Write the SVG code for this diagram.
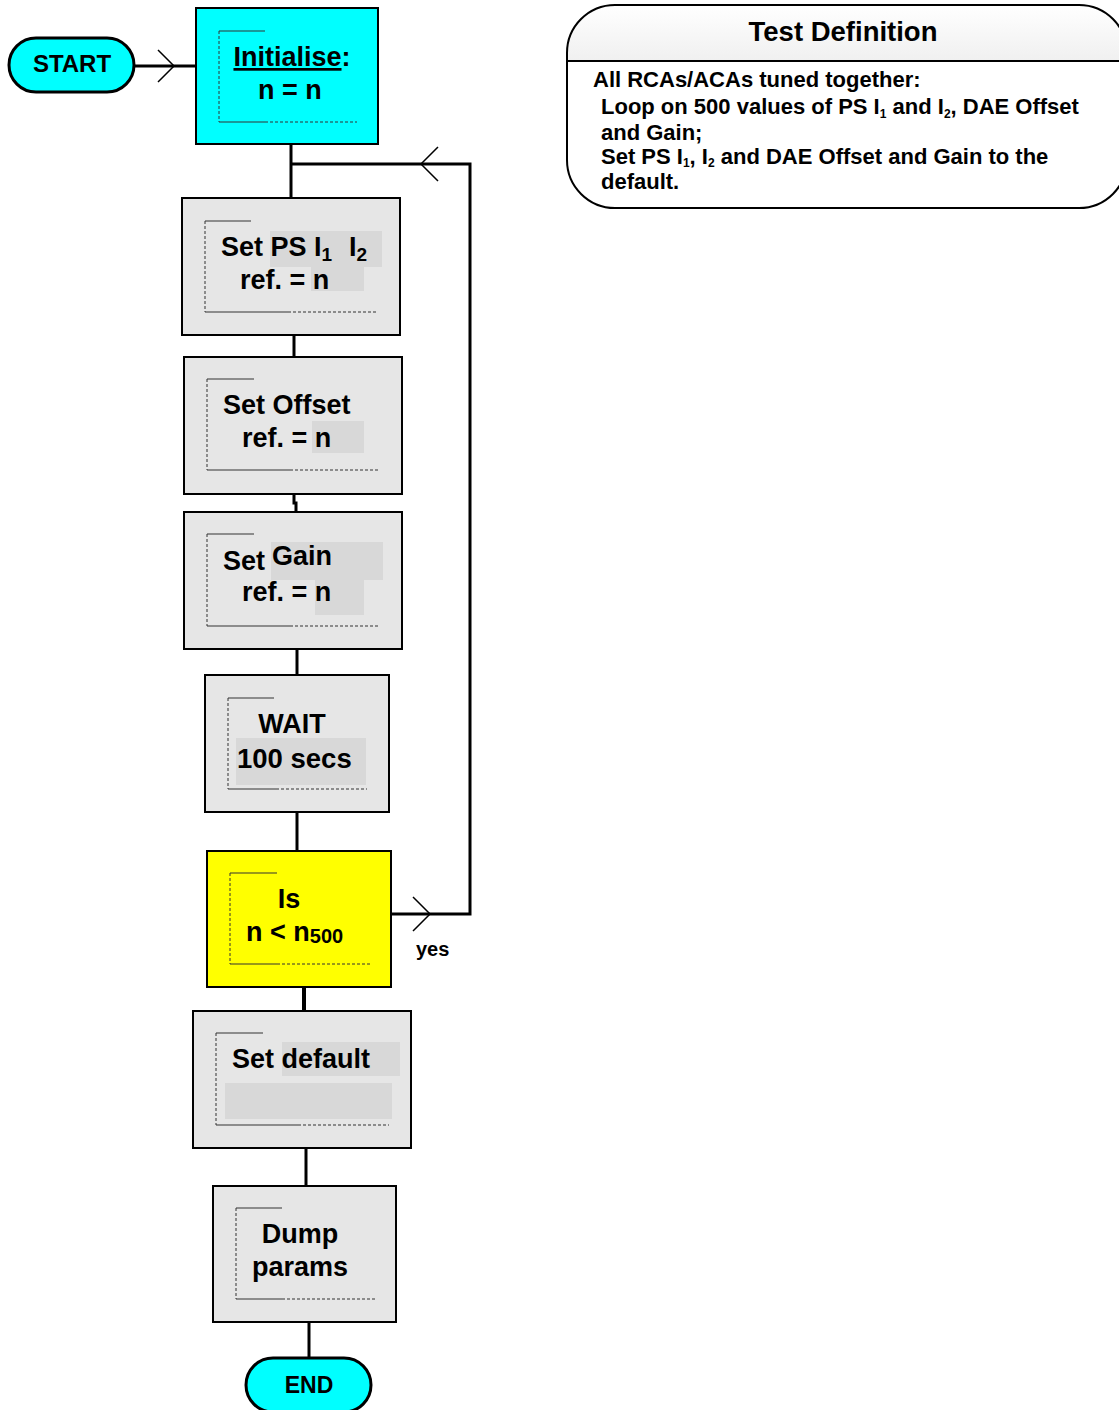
<svg xmlns="http://www.w3.org/2000/svg" width="1119" height="1410" viewBox="0 0 1119 1410">
<style>
text{font-family:"Liberation Sans",Arial,sans-serif;font-weight:bold;fill:#000}
.t{font-size:27px}
.sub{font-size:19px}
.box{fill:#E6E6E6;stroke:#000;stroke-width:2}
.cyan{fill:#00FFFF;stroke:#000;stroke-width:3}
.hl{fill:#D8D8D8}
.bs{stroke:#333;stroke-width:1.2;fill:none}
.bd{stroke:#333;stroke-width:1;stroke-dasharray:3 2;fill:none}
.con{stroke:#000;stroke-width:3;fill:none}
.chev{stroke:#000;stroke-width:1.5;fill:none}
.body{font-size:22px}
.bsub{font-size:12px}
</style>
<defs>
<linearGradient id="hdr" x1="0" y1="0" x2="0" y2="1">
<stop offset="0" stop-color="#FFFFFF"/>
<stop offset="1" stop-color="#C8C8C8"/>
</linearGradient>
<clipPath id="hclip"><rect x="560" y="0" width="600" height="61"/></clipPath>
</defs>

<g id="connectors">
<line class="con" x1="135" y1="66" x2="196" y2="66"/>
<polyline class="chev" points="158,50 174,66 158,82"/>
<line class="con" x1="291" y1="144" x2="291" y2="198"/>
<line class="con" x1="294" y1="335" x2="294" y2="357"/>
<polyline class="con" points="294,494 294,503 296,503 296,512"/>
<line class="con" x1="297" y1="649" x2="297" y2="675"/>
<line class="con" x1="297" y1="812" x2="297" y2="851"/>
<line class="con" x1="304" y1="987" x2="304" y2="1012" style="stroke-width:4"/>
<line class="con" x1="306" y1="1148" x2="306" y2="1186"/>
<line class="con" x1="309" y1="1322" x2="309" y2="1358"/>
<polyline class="con" points="391,914 470,914 470,164 291,164"/>
<polyline class="chev" points="438,147 421,164 438,181"/>
<polyline class="chev" points="413,897 430,914 413,931"/>
<text x="416" y="956" style="font-size:20px">yes</text>
</g>

<g id="start">
<rect class="cyan" x="9" y="38" width="125" height="54" rx="27"/>
<text x="72" y="72" text-anchor="middle" style="font-size:24px">START</text>
</g>

<g id="initialise">
<rect x="196" y="8" width="182" height="136" style="fill:#00FFFF;stroke:#000;stroke-width:2"/>
<polyline class="bs" points="265,31 219,31"/>
<line class="bd" x1="219" y1="31" x2="219" y2="122"/>
<line class="bs" x1="219" y1="122" x2="265" y2="122"/>
<line class="bd" x1="265" y1="122" x2="357" y2="122"/>
<text class="t" x="292" y="66" text-anchor="middle"><tspan text-decoration="underline">Initialise</tspan>:</text>
<text class="t" x="290" y="99" text-anchor="middle">n = n</text>
</g>

<g id="setps">
<rect class="box" x="182" y="198" width="218" height="137"/>
<rect class="hl" x="270" y="231" width="112" height="36"/>
<rect class="hl" x="311" y="267" width="53" height="24"/>
<line class="bs" x1="205" y1="221" x2="251" y2="221"/>
<line class="bd" x1="205" y1="221" x2="205" y2="312"/>
<line class="bs" x1="205" y1="312" x2="288" y2="312"/>
<line class="bd" x1="288" y1="312" x2="378" y2="312"/>
<text class="t" x="221" y="256">Set PS I<tspan class="sub" dy="5">1</tspan></text>
<text class="t" x="349" y="256">I<tspan class="sub" dy="5">2</tspan></text>
<text class="t" x="240" y="289">ref. = n</text>
</g>

<g id="setoffset">
<rect class="box" x="184" y="357" width="218" height="137"/>
<rect class="hl" x="312" y="421" width="52" height="32"/>
<line class="bs" x1="207" y1="379" x2="254" y2="379"/>
<line class="bd" x1="207" y1="379" x2="207" y2="470"/>
<line class="bs" x1="207" y1="470" x2="290" y2="470"/>
<line class="bd" x1="290" y1="470" x2="380" y2="470"/>
<text class="t" x="223" y="414">Set Offset</text>
<text class="t" x="242" y="447">ref. = n</text>
</g>

<g id="setgain">
<rect class="box" x="184" y="512" width="218" height="137"/>
<rect class="hl" x="271" y="542" width="112" height="38"/>
<rect class="hl" x="315" y="580" width="49" height="35"/>
<line class="bs" x1="207" y1="534" x2="254" y2="534"/>
<line class="bd" x1="207" y1="534" x2="207" y2="626"/>
<line class="bs" x1="207" y1="626" x2="290" y2="626"/>
<line class="bd" x1="290" y1="626" x2="380" y2="626"/>
<text class="t" x="223" y="570">Set</text>
<text class="t" x="272" y="565">Gain</text>
<text class="t" x="242" y="601">ref. = n</text>
</g>

<g id="wait">
<rect class="box" x="205" y="675" width="184" height="137"/>
<rect class="hl" x="236" y="738" width="130" height="47"/>
<line class="bs" x1="228" y1="698" x2="274" y2="698"/>
<line class="bd" x1="228" y1="698" x2="228" y2="789"/>
<line class="bs" x1="228" y1="789" x2="276" y2="789"/>
<line class="bd" x1="276" y1="789" x2="367" y2="789"/>
<text class="t" x="292" y="733" text-anchor="middle">WAIT</text>
<text class="t" x="237" y="768" style="font-size:27.5px">100 secs</text>
</g>

<g id="decision">
<rect x="207" y="851" width="184" height="136" style="fill:#FFFF00;stroke:#000;stroke-width:2"/>
<line class="bs" x1="230" y1="873" x2="277" y2="873"/>
<line class="bd" x1="230" y1="873" x2="230" y2="964"/>
<line class="bs" x1="230" y1="964" x2="277" y2="964"/>
<line class="bd" x1="277" y1="964" x2="370" y2="964"/>
<text class="t" x="289" y="908" text-anchor="middle">Is</text>
<text class="t" x="246" y="941">n &lt; n<tspan dy="2" style="font-size:20px">500</tspan></text>
</g>

<g id="setdefault">
<rect class="box" x="193" y="1011" width="218" height="137"/>
<rect class="hl" x="282" y="1042" width="118" height="34"/>
<rect class="hl" x="225" y="1083" width="167" height="36"/>
<line class="bs" x1="216" y1="1033" x2="263" y2="1033"/>
<line class="bd" x1="216" y1="1033" x2="216" y2="1125"/>
<line class="bs" x1="216" y1="1125" x2="298" y2="1125"/>
<line class="bd" x1="298" y1="1125" x2="389" y2="1125"/>
<text class="t" x="232" y="1068">Set default</text>
</g>

<g id="dump">
<rect class="box" x="213" y="1186" width="183" height="136"/>
<line class="bs" x1="236" y1="1208" x2="282" y2="1208"/>
<line class="bd" x1="236" y1="1208" x2="236" y2="1299"/>
<line class="bs" x1="236" y1="1299" x2="282" y2="1299"/>
<line class="bd" x1="282" y1="1299" x2="375" y2="1299"/>
<text class="t" x="300" y="1243" text-anchor="middle">Dump</text>
<text class="t" x="300" y="1276" text-anchor="middle">params</text>
</g>

<g id="end">
<rect class="cyan" x="246" y="1358" width="125" height="54" rx="27"/>
<text x="309" y="1393" text-anchor="middle" style="font-size:23px">END</text>
</g>

<g id="testdef">
<rect x="567" y="5" width="560" height="203" rx="48" fill="#FFFFFF"/>
<rect x="567" y="5" width="560" height="203" rx="48" fill="url(#hdr)" clip-path="url(#hclip)"/>
<rect x="567" y="5" width="560" height="203" rx="48" fill="none" stroke="#000" stroke-width="2"/>
<line x1="567" y1="61" x2="1119" y2="61" stroke="#000" stroke-width="2"/>
<text x="843" y="41" text-anchor="middle" style="font-size:27.5px">Test Definition</text>
<text class="body" x="593" y="87">All RCAs/ACAs tuned together:</text>
<text class="body" x="601" y="114">Loop on 500 values of PS I<tspan class="bsub" dy="4">1</tspan><tspan dy="-4"> and I</tspan><tspan class="bsub" dy="4">2</tspan><tspan dy="-4">, DAE Offset</tspan></text>
<text class="body" x="601" y="140">and Gain;</text>
<text class="body" x="601" y="164">Set PS I<tspan class="bsub" dy="3">1</tspan><tspan dy="-3">, I</tspan><tspan class="bsub" dy="3">2</tspan><tspan dy="-3"> and DAE Offset and Gain to the</tspan></text>
<text class="body" x="601" y="189">default.</text>
</g>
</svg>
